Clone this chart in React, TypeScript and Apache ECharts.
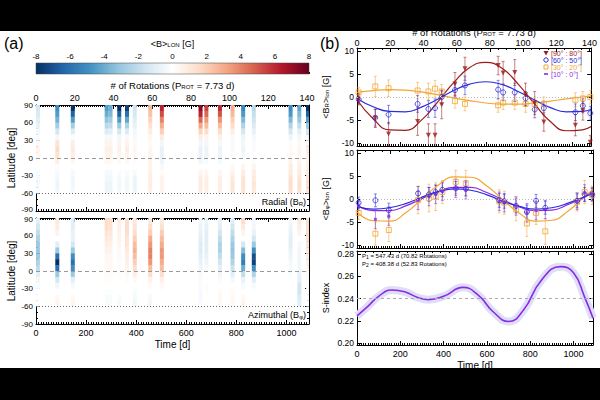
import React, { useEffect, useRef } from 'react';
import * as echarts from 'echarts';

const P_ROT = 7.73;
const T_MAX = 1090;
const FONT = 'Liberation Sans, Arial, sans-serif';

// observation epochs (in rotations)
const EPOCH_ROT = [1, 11, 19, 36.5, 38.5, 43, 47, 51, 59, 65, 85, 88, 95, 101.5, 107, 112.5, 131.5, 136, 140.5];
const LAT_EDGES = [90, 80, 70, 60, 50, 40, 30, 20, 10, 0, -10, -20, -30, -40, -50, -60];

const RADIAL_MAP = [
  [-1.5, -1.3, -1.0, -0.8, -0.5, -0.2, 0.3, 0.5, 0.4, 0.2, 0.0, -0.2, -0.3, -0.3, -0.2],
  [-5.0, -4.5, -3.8, -2.8, -1.5, -0.5, 1.2, 1.6, 1.3, 0.7, 0.2, -0.3, -0.5, -0.6, -0.5],
  [-8.0, -6.5, -4.5, -2.8, -1.2, -0.2, 0.8, 1.0, 0.8, 0.4, 0.0, -0.3, -0.5, -0.5, -0.4],
  [-4.5, -4.0, -3.2, -2.2, -1.2, -0.4, 0.5, 0.7, 0.6, 0.3, 0.0, -0.3, -0.5, -0.6, -0.6],
  [-4.0, -3.6, -2.8, -2.0, -1.0, -0.3, 0.5, 0.7, 0.6, 0.3, 0.0, -0.3, -0.5, -0.6, -0.6],
  [-8.0, -6.5, -4.5, -3.0, -1.5, -0.5, 0.5, 0.7, 0.5, 0.3, 0.0, -0.2, -0.4, -0.5, -0.4],
  [-7.5, -6.0, -4.2, -2.6, -1.2, -0.3, 0.6, 0.8, 0.6, 0.3, 0.0, -0.2, -0.4, -0.5, -0.4],
  [-1.6, -1.4, -1.1, -0.8, -0.5, -0.3, 0.3, 0.4, 0.3, 0.2, 0.0, -0.3, -0.6, -0.7, -0.6],
  [2.6, 2.3, 1.8, 1.3, 0.8, 0.4, 0.3, 0.4, 0.5, 0.6, 0.6, 0.7, 0.8, 0.8, 0.7],
  [6.2, 5.2, 4.0, 3.0, 2.0, 0.9, -0.5, -0.8, -0.8, -0.6, -0.3, 0.2, 0.5, 0.6, 0.5],
  [7.2, 6.2, 4.6, 3.2, 1.8, 0.8, -0.5, -0.8, -0.8, -0.5, 0.0, 0.5, 0.8, 0.9, 0.8],
  [5.5, 4.6, 3.5, 2.5, 1.5, 0.5, -0.5, -0.7, -0.6, -0.3, 0.0, 0.4, 0.7, 0.8, 0.7],
  [6.0, 5.0, 3.6, 2.5, 1.5, 0.7, -0.4, -0.7, -0.6, -0.3, 0.0, 0.4, 0.7, 0.8, 0.7],
  [3.0, 2.6, 2.0, 1.5, 0.8, 0.3, -0.2, -0.3, -0.2, 0.0, 0.3, 0.6, 1.0, 1.2, 1.1],
  [-5.2, -4.6, -3.6, -2.5, -1.5, -0.6, -0.5, -0.6, -0.4, 0.0, 0.4, 0.8, 1.2, 1.3, 1.2],
  [-2.2, -1.9, -1.6, -1.2, -0.8, -0.4, -0.2, -0.2, 0.0, 0.2, 0.5, 0.8, 1.0, 1.2, 1.0],
  [-5.2, -4.6, -3.6, -2.5, -1.5, -0.6, 0.2, 0.3, 0.3, 0.5, 0.8, 1.0, 1.3, 1.5, 1.4],
  [-4.2, -3.6, -3.0, -2.0, -1.0, -0.5, 0.3, 0.4, 0.4, 0.5, 0.7, 0.9, 1.2, 1.4, 1.2],
  [-8.0, -6.5, -4.5, -3.0, -1.5, -0.5, 0.5, 0.8, 0.7, 0.6, 0.7, 0.9, 1.2, 1.3, 1.2],
];

const AZIMUTHAL_MAP = [
  [-1.0, -1.5, -2.0, -2.5, -3.0, -3.0, -3.0, -2.5, -2.0, -1.0, -0.5, -0.2, 0.0, 0.0, 0.0],
  [1.0, 0.8, 0.5, 0.0, -1.0, -3.0, -6.0, -8.0, -6.0, -3.0, -1.5, -0.5, 0.0, 0.3, 0.5],
  [-1.0, -1.0, -0.8, -0.8, -1.5, -3.0, -5.0, -6.0, -5.0, -3.0, -1.0, -0.3, 0.0, 0.3, 0.5],
  [1.5, 1.5, 1.2, 1.0, 0.8, 0.6, 0.4, 0.3, 0.3, 0.2, 0.1, 0.0, -0.1, -0.2, -0.2],
  [1.3, 1.3, 1.1, 0.9, 0.7, 0.5, 0.4, 0.3, 0.3, 0.2, 0.1, 0.0, -0.1, -0.2, -0.2],
  [0.8, 0.7, 0.6, 0.5, 0.4, 0.3, 0.3, 0.2, 0.2, 0.1, 0.0, 0.0, 0.0, -0.2, -0.3],
  [1.5, 1.5, 1.5, 1.2, 1.2, 1.0, 0.8, 0.7, 0.5, 0.3, 0.1, 0.0, 0.0, 0.0, 0.0],
  [1.0, 1.2, 1.5, 2.0, 2.5, 2.8, 2.5, 2.0, 1.5, 0.8, 0.3, 0.0, -0.2, -0.4, -0.5],
  [1.0, 1.5, 2.0, 3.0, 3.5, 4.0, 4.0, 3.5, 2.5, 1.5, 0.6, 0.2, 0.0, -0.3, -0.5],
  [1.0, 1.3, 2.0, 2.5, 3.0, 3.5, 3.5, 3.0, 2.5, 1.5, 0.7, 0.3, 0.0, 0.0, 0.0],
  [-0.5, -0.6, -0.8, -1.0, -1.2, -1.2, -1.0, -0.8, -0.6, -0.3, -0.2, -0.2, -0.3, -0.3, -0.2],
  [-0.6, -0.8, -1.0, -1.0, -1.0, -1.0, -0.8, -0.6, -0.3, 0.0, 0.0, 0.1, 0.1, 0.0, 0.0],
  [-0.8, -1.0, -1.5, -2.0, -2.5, -2.5, -2.0, -1.5, -1.0, -0.5, -0.2, 0.0, 0.2, 0.3, 0.3],
  [-1.0, -1.5, -2.0, -2.5, -3.0, -3.2, -3.0, -2.5, -1.8, -1.0, -0.4, 0.0, 0.2, 0.3, 0.3],
  [1.5, 1.0, 0.5, 0.0, -1.5, -3.5, -5.0, -5.5, -4.0, -2.0, -0.8, -0.3, 0.0, 0.3, 0.5],
  [-0.3, -0.5, -0.8, -1.5, -3.0, -5.0, -7.0, -7.5, -5.0, -2.5, -1.0, -0.3, 0.0, 0.0, 0.0],
  [-0.5, -0.6, -0.8, -1.0, -1.0, -0.8, -0.6, -0.4, -0.3, -0.2, 0.0, 0.0, 0.0, 0.0, 0.0],
  [1.0, 0.8, 0.5, 0.0, -0.3, -0.5, -0.5, -0.5, -0.5, -0.8, -1.0, -1.5, -1.5, -1.2, -1.0],
  [1.5, 1.5, 1.5, 1.3, 1.2, 1.0, 0.8, 0.6, 0.4, 0.3, 0.2, 0.1, 0.0, 0.0, 0.0],
];

// Panel (b) top: radial field per latitude band
const BR_80 = [-0.5, -4.6, -8.0, -5.3, null, -8.3, -8.3, -1.7, 2.8, 6.1, 6.8, 5.2, 5.3, 0.5, -1.3, -5.4, -6.1, -3.0, -9.8];
const BR_80_ERR = [1.2, 2.0, 2.5, 3.0, null, 2.5, 2.5, 3.0, 2.5, 2.5, 2.0, 2.5, 2.8, 2.5, 2.5, 2.0, 2.3, 2.0, 1.5];
const BR_50 = [-0.5, -4.5, -3.8, -1.5, null, -2.6, -2.4, 0.0, 1.5, 2.5, 1.6, 1.0, 1.0, -0.3, -2.7, -2.4, -3.3, -1.9, -3.5];
const BR_50_ERR = [1.0, 1.8, 2.0, 1.8, null, 1.8, 2.0, 1.5, 1.5, 2.0, 2.0, 1.8, 2.0, 1.5, 1.8, 1.5, 1.8, 1.5, 1.5];
const BR_20 = [1.0, 2.3, 1.9, 1.4, null, 1.2, 1.8, 1.2, -0.9, -1.5, -1.8, -1.2, -1.2, -1.5, -1.5, -1.5, -0.6, -0.3, 0.0];
const BR_20_ERR = [1.0, 2.2, 1.8, 1.8, null, 1.8, 1.8, 1.5, 1.5, 1.5, 1.5, 1.5, 1.5, 1.8, 1.5, 1.5, 1.5, 1.5, 1.5];

// Panel (b) middle: azimuthal field
const BP_50 = [-0.8, -0.3, -2.4, 1.2, null, 1.0, 1.5, 2.0, 2.3, 2.2, -0.3, -0.5, -1.5, -2.8, -0.4, -1.9, -0.4, 1.0, 1.0];
const BP_50_ERR = [1.2, 1.4, 1.5, 1.5, null, 1.5, 1.5, 1.5, 1.5, 1.5, 1.5, 1.5, 1.5, 1.5, 1.4, 1.4, 1.5, 1.5, 1.3];
const BP_20 = [-3.0, -7.5, -6.7, -0.2, null, 0.2, 0.5, 1.5, 3.7, 3.4, -0.5, -0.8, -2.2, -5.3, -3.0, -7.0, -0.6, 1.5, 0.8];
const BP_20_ERR = [1.5, 2.5, 2.5, 3.0, null, 3.0, 3.0, 2.5, 2.5, 2.8, 2.5, 2.5, 2.5, 2.8, 2.5, 2.8, 2.0, 2.5, 2.0];
const BP_0 = [-1.5, -4.4, -3.7, -0.3, null, 0.5, 1.0, 1.7, 2.3, 2.0, -0.5, -0.8, -1.5, -3.0, -2.5, -2.3, -0.5, 1.3, 1.0];
const BP_0_ERR = [1.0, 2.0, 2.0, 2.0, null, 2.0, 2.0, 2.0, 2.0, 2.0, 2.0, 2.0, 2.0, 2.0, 2.0, 2.0, 1.8, 1.8, 1.5];

// fitted curves
const FIT_DAYS = [0, 75, 150, 225, 300, 375, 450, 525, 600, 675, 750, 825, 900, 975, 1050, 1090];
const FIT_BR_80 = [-0.6, -4.7, -7.1, -7.2, -5.0, -1.1, 3.1, 6.4, 7.5, 6.2, 2.8, -1.4, -5.3, -7.3, -7.1, -6.4];
const FIT_BR_50 = [-0.3, -2.1, -3.1, -3.2, -2.2, -0.5, 1.4, 2.8, 3.3, 2.7, 1.2, -0.6, -2.3, -3.2, -3.1, -2.7];
const FIT_BR_20 = [1.0, 1.4, 1.6, 1.5, 1.1, 0.5, -0.2, -0.8, -1.3, -1.55, -1.55, -1.3, -0.9, -0.4, 0.0, 0.2];
const FIT_BP_50 = [-1.6, -2.2, -1.9, -1.0, 0.4, 1.6, 2.2, 1.9, 0.9, -0.5, -1.6, -2.2, -1.9, -0.9, 0.5, 1.2];
const FIT_BP_0 = [-1.3, -2.5, -2.5, -1.5, 0.1, 1.6, 2.5, 2.5, 1.4, -0.2, -1.7, -2.5, -2.4, -1.2, 0.4, 1.4];
const FIT_BP_20 = [-2.8, -4.7, -4.8, -3.0, 0.0, 3.0, 4.8, 4.7, 2.8, -0.2, -3.1, -4.8, -4.6, -2.6, 0.4, 2.1];

// S-index curve
const S_DAYS = [0, 50, 100, 160, 220, 280, 330, 400, 490, 560, 630, 700, 770, 850, 940, 1000, 1050, 1090];
const S_VALUES = [0.2245, 0.233, 0.242, 0.2476, 0.246, 0.241, 0.239, 0.242, 0.25, 0.243, 0.228, 0.2195, 0.23, 0.256, 0.2685, 0.263, 0.242, 0.2225];

const RD_BU = ['#053061', '#2166ac', '#4393c3', '#92c5de', '#d1e5f0', '#ffffff', '#fddbc7', '#f4a582', '#d6604d', '#b2182b', '#67001f'];

const C_RED = '#9b1c1c';
const C_BLUE = '#2b2bdc';
const C_ORANGE = '#f2a531';
const C_PURPLE = '#8a2be2';

const STRIP_HALF = 8; // days

const SUB = { fontSize: 6, verticalAlign: 'bottom', fontFamily: FONT, color: '#000', padding: [3, 0, 0, 0] };

function heatData(map: number[][]) {
  const out: number[][] = [];
  map.forEach((col, i) =>
    col.forEach((v, j) => out.push([EPOCH_ROT[i] * P_ROT, LAT_EDGES[j], LAT_EDGES[j + 1], v]))
  );
  return out;
}

function pointData(vals: (number | null)[], errs: (number | null)[]) {
  const out: number[][] = [];
  vals.forEach((v, i) => {
    if (v !== null && errs[i] !== null) out.push([EPOCH_ROT[i] * P_ROT, v, errs[i] as number]);
  });
  return out;
}

const axisLine = { show: true, onZero: false, lineStyle: { color: '#000', width: 1 } };
const labelStyle = { fontSize: 9, color: '#000', fontFamily: FONT };

function timeAxis(grid: number, labels: boolean) {
  return {
    type: 'value', gridIndex: grid, position: 'bottom', min: 0, max: T_MAX, interval: 200,
    axisLine, splitLine: { show: false },
    axisTick: { show: true, inside: true, length: 4, lineStyle: { color: '#000' } },
    minorTick: { show: true, splitNumber: 20, length: 2, lineStyle: { color: '#000' } },
    axisLabel: { show: labels, margin: 4, showMaxLabel: false, formatter: (v: number) => String(v), ...labelStyle },
    name: labels ? 'Time [d]' : '', nameLocation: 'middle', nameGap: 15,
    nameTextStyle: { fontSize: 10, color: '#000', fontFamily: FONT },
  };
}

function rotAxis(grid: number, labels: boolean, minorSplit: number, gap: number, margin: number) {
  return {
    type: 'value', gridIndex: grid, position: 'top', min: 0, max: T_MAX / P_ROT, interval: 20,
    axisLine, splitLine: { show: false },
    axisTick: { show: true, inside: true, length: 4, lineStyle: { color: '#000' } },
    minorTick: { show: true, splitNumber: minorSplit, length: 2, lineStyle: { color: '#000' } },
    axisLabel: { show: labels, margin, showMaxLabel: false, formatter: (v: number) => String(v), ...labelStyle },
    name: labels ? '# of Rotations (P{sub|ROT} = 7.73 d)' : '', nameLocation: 'middle', nameGap: gap,
    nameTextStyle: { fontSize: 9.5, color: '#000', fontFamily: FONT, rich: { sub: SUB } },
  };
}

// shift the edge labels so that the "-90" of the upper map and "90" of the lower map do not collide
function latAxis(grid: number, left: boolean, edge: 'top' | 'bottom') {
  return {
    type: 'value', gridIndex: grid, position: left ? 'left' : 'right', min: -90, max: 90, interval: 30,
    axisLine, splitLine: { show: false },
    axisTick: { show: true, inside: true, length: 4, lineStyle: { color: '#000' } },
    minorTick: { show: true, splitNumber: 3, length: 2, lineStyle: { color: '#000' } },
    axisLabel: {
      show: left, margin: 3, ...labelStyle, fontSize: 8,
      formatter: (v: number) => {
        if (edge === 'bottom' && v === -90) return '{up|' + v + '}';
        if (edge === 'top' && v === 90) return '{dn|' + v + '}';
        return String(v);
      },
      rich: {
        up: { fontSize: 8, fontFamily: FONT, color: '#000', padding: [0, 0, 3, 0] },
        dn: { fontSize: 8, fontFamily: FONT, color: '#000', padding: [3, 0, 0, 0] },
      },
    },
    name: left ? 'Latitude [deg]' : '', nameLocation: 'middle', nameGap: 20, nameRotate: 90,
    nameTextStyle: { fontSize: 10, color: '#000', fontFamily: FONT },
  };
}

function valAxis(grid: number, left: boolean, min: number, max: number, ticks: number[], name: string, fmt?: (v: number) => string) {
  return {
    type: 'value', gridIndex: grid, position: left ? 'left' : 'right', min, max,
    axisLine, splitLine: { show: false },
    axisTick: { show: true, inside: true, length: 4, customValues: ticks, lineStyle: { color: '#000' } },
    axisLabel: { show: left, margin: 3, customValues: ticks, formatter: fmt, ...labelStyle, fontSize: 8.5 },
    name: left ? name : '', nameLocation: 'middle', nameGap: 27, nameRotate: 90,
    nameTextStyle: { fontSize: 9, color: '#000', fontFamily: FONT, rich: { sub: SUB } },
  };
}

function heatSeries(map: number[][], xi: number, yi: number) {
  return {
    type: 'custom', xAxisIndex: xi, yAxisIndex: yi, clip: true,
    encode: { x: 0, y: [1, 2] },
    data: heatData(map),
    renderItem: (params: any, api: any) => {
      const t = api.value(0);
      const p1 = api.coord([t - STRIP_HALF, api.value(1)]);
      const p2 = api.coord([t + STRIP_HALF, api.value(2)]);
      const c = api.visual('color');
      return {
        type: 'rect',
        shape: { x: p1[0], y: p1[1], width: p2[0] - p1[0], height: p2[1] - p1[1] + 0.3 },
        style: { fill: c },
      };
    },
    markLine: {
      silent: true, symbol: 'none', label: { show: false },
      data: [
        { yAxis: 0, lineStyle: { color: '#999', type: [4, 3], width: 1 } },
        { yAxis: -60, lineStyle: { color: '#666', type: [1, 2], width: 1 } },
      ],
    },
  };
}

function errSeries(data: number[][], color: string, xi: number, yi: number) {
  return {
    type: 'custom', xAxisIndex: xi, yAxisIndex: yi, clip: true, z: 2,
    data,
    encode: { x: 0, y: 1 },
    renderItem: (params: any, api: any) => {
      const x = api.value(0), v = api.value(1), e = api.value(2);
      const hi = api.coord([x, v + e]);
      const lo = api.coord([x, v - e]);
      const st = { stroke: color, lineWidth: 1, opacity: 0.55 };
      return {
        type: 'group',
        children: [
          { type: 'line', shape: { x1: hi[0], y1: hi[1], x2: lo[0], y2: lo[1] }, style: st },
          { type: 'line', shape: { x1: hi[0] - 1.5, y1: hi[1], x2: hi[0] + 1.5, y2: hi[1] }, style: st },
          { type: 'line', shape: { x1: lo[0] - 1.5, y1: lo[1], x2: lo[0] + 1.5, y2: lo[1] }, style: st },
        ],
      };
    },
  };
}

function fitSeries(name: string, vals: number[], color: string, xi: number, yi: number) {
  return {
    type: 'line', name, xAxisIndex: xi, yAxisIndex: yi, smooth: 0.5, showSymbol: false, z: 3,
    data: FIT_DAYS.map((d, i) => [d, vals[i]]),
    lineStyle: { color, width: 1.2 },
  };
}

function pointSeries(data: number[][], symbol: string, size: number, color: string, filled: boolean, rotate: number, xi: number, yi: number, zeroLine: boolean) {
  const s: any = {
    type: 'scatter', xAxisIndex: xi, yAxisIndex: yi, z: 4,
    data: data.map((d) => [d[0], d[1]]),
    symbol, symbolSize: size, symbolRotate: rotate,
    itemStyle: filled ? { color } : { color: 'rgba(255,255,255,0)', borderColor: color, borderWidth: 1 },
  };
  if (zeroLine) {
    s.markLine = {
      silent: true, symbol: 'none', label: { show: false },
      data: [{ yAxis: 0, lineStyle: { color: '#bbb', type: [1, 2], width: 1 } }],
    };
  }
  return s;
}

function legendItem(y: number, shape: any, label: string, color: string) {
  return [
    shape,
    {
      type: 'text', x: 551, y,
      style: { text: label, fill: color, font: `7px ${FONT}`, textVerticalAlign: 'middle' },
    },
  ];
}

export default function App() {
  const ref = useRef<HTMLDivElement>(null);
  useEffect(() => {
    if (!ref.current) return;
    const chart = echarts.init(ref.current, null, { renderer: 'svg' });

    const grids = [
      { left: 36, top: 63, width: 273, height: 11 },
      { left: 36, top: 105, width: 273, height: 106 },
      { left: 36, top: 218, width: 273, height: 106 },
      { left: 357, top: 48, width: 236, height: 98 },
      { left: 357, top: 150, width: 236, height: 98 },
      { left: 357, top: 251, width: 236, height: 94 },
    ];

    const xAxis = [
      {
        type: 'value', gridIndex: 0, position: 'top', min: -8, max: 8, interval: 2,
        axisLine: { show: false }, splitLine: { show: false },
        axisTick: { show: true, inside: false, length: 2, lineStyle: { color: '#000' } },
        axisLabel: { margin: 3, fontSize: 8, color: '#000', fontFamily: FONT },
        name: '<B>{sub|LON} [G]', nameLocation: 'middle', nameGap: 15,
        nameTextStyle: { fontSize: 9, color: '#000', fontFamily: FONT, rich: { sub: SUB } },
      },
      timeAxis(1, false),
      rotAxis(1, true, 20, 15, 3),
      timeAxis(2, true),
      rotAxis(2, false, 20, 15, 3),
      timeAxis(3, false),
      rotAxis(3, true, 4, 8, 1),
      timeAxis(4, false),
      rotAxis(4, false, 4, 8, 1),
      timeAxis(5, true),
      rotAxis(5, false, 4, 8, 1),
    ];

    const brTicks = [-10, -5, 0, 5, 10];
    const sTicks = [0.2, 0.22, 0.24, 0.26, 0.28];
    const yAxis = [
      { type: 'value', gridIndex: 0, min: 0, max: 1, show: false },
      latAxis(1, true, 'bottom'), latAxis(1, false, 'bottom'),
      latAxis(2, true, 'top'), latAxis(2, false, 'top'),
      valAxis(3, true, -10.6, 10.6, brTicks, '<B{sub|R}>{sub|lon} [G]'),
      valAxis(3, false, -10.6, 10.6, brTicks, ''),
      valAxis(4, true, -10.6, 10.6, brTicks, '<B{sub|φ}>{sub|lon} [G]'),
      valAxis(4, false, -10.6, 10.6, brTicks, ''),
      valAxis(5, true, 0.1985, 0.2825, sTicks, 'S-index', (v: number) => v.toFixed(2)),
      valAxis(5, false, 0.1985, 0.2825, sTicks, ''),
    ];

    const gradStops = RD_BU.map((c, i) => ({ offset: i / (RD_BU.length - 1), color: c }));

    const series: any[] = [
      {
        type: 'custom', xAxisIndex: 0, yAxisIndex: 0,
        data: [[-8, 8]],
        renderItem: (params: any, api: any) => {
          const a = api.coord([api.value(0), 1]);
          const b = api.coord([api.value(1), 0]);
          return {
            type: 'rect',
            shape: { x: a[0], y: a[1], width: b[0] - a[0], height: b[1] - a[1] },
            style: { fill: new echarts.graphic.LinearGradient(0, 0, 1, 0, gradStops), stroke: '#444', lineWidth: 0.5 },
          };
        },
      },
      heatSeries(RADIAL_MAP, 1, 1),
      heatSeries(AZIMUTHAL_MAP, 3, 3),
    ];

    // panel b top (xAxis 5, yAxis 5)
    const pR80 = pointData(BR_80, BR_80_ERR);
    const pR50 = pointData(BR_50, BR_50_ERR);
    const pR20 = pointData(BR_20, BR_20_ERR);
    series.push(
      errSeries(pR20, C_ORANGE, 5, 5), errSeries(pR50, C_BLUE, 5, 5), errSeries(pR80, C_RED, 5, 5),
      fitSeries('f1', FIT_BR_20, C_ORANGE, 5, 5), fitSeries('f2', FIT_BR_50, C_BLUE, 5, 5), fitSeries('f3', FIT_BR_80, C_RED, 5, 5),
      pointSeries(pR20, 'rect', 5, C_ORANGE, false, 0, 5, 5, true),
      pointSeries(pR50, 'circle', 5, C_BLUE, false, 0, 5, 5, false),
      pointSeries(pR80, 'triangle', 5, C_RED, true, 180, 5, 5, false),
    );

    // panel b middle (xAxis 7, yAxis 7)
    const pP50 = pointData(BP_50, BP_50_ERR);
    const pP20 = pointData(BP_20, BP_20_ERR);
    const pP0 = pointData(BP_0, BP_0_ERR);
    series.push(
      errSeries(pP20, C_ORANGE, 7, 7), errSeries(pP0, C_PURPLE, 7, 7), errSeries(pP50, C_BLUE, 7, 7),
      fitSeries('g1', FIT_BP_20, C_ORANGE, 7, 7), fitSeries('g2', FIT_BP_0, C_PURPLE, 7, 7), fitSeries('g3', FIT_BP_50, C_BLUE, 7, 7),
      pointSeries(pP20, 'rect', 5, C_ORANGE, false, 0, 7, 7, true),
      pointSeries(pP0, 'rect', 3, C_PURPLE, true, 0, 7, 7, false),
      pointSeries(pP50, 'circle', 5, C_BLUE, false, 0, 7, 7, false),
    );

    // S-index (xAxis 9, yAxis 9): uncertainty band drawn as a wide pale stroke under the curve
    series.push(
      {
        type: 'line', xAxisIndex: 9, yAxisIndex: 9, smooth: 0.5, showSymbol: false, z: 2,
        data: S_DAYS.map((d, i) => [d, S_VALUES[i]]),
        lineStyle: { color: '#dedef9', width: 8 },
        markLine: {
          silent: true, symbol: 'none', label: { show: false },
          data: [{ yAxis: 0.24, lineStyle: { color: '#aaa', type: [3, 3], width: 1 } }],
        },
      },
      {
        type: 'line', xAxisIndex: 9, yAxisIndex: 9, smooth: 0.5, showSymbol: false, z: 3,
        data: S_DAYS.map((d, i) => [d, S_VALUES[i]]),
        lineStyle: { color: C_PURPLE, width: 1.6 },
      },
    );

    const graphic: any[] = [
      { type: 'rect', shape: { x: 0, y: 0, width: 600, height: 31 }, style: { fill: '#000' }, z: 100 },
      { type: 'rect', shape: { x: 0, y: 368, width: 600, height: 32 }, style: { fill: '#000' }, z: 100 },
      { type: 'text', x: 4, y: 43, style: { text: '(a)', font: `16px ${FONT}`, fill: '#000', textVerticalAlign: 'middle' } },
      { type: 'text', x: 320, y: 43, style: { text: '(b)', font: `16px ${FONT}`, fill: '#000', textVerticalAlign: 'middle' } },
      {
        type: 'text', x: 306, y: 202,
        style: { text: 'Radial (B{sub|R})', font: `9px ${FONT}`, fill: '#000', textAlign: 'right', textVerticalAlign: 'middle', rich: { sub: SUB } },
      },
      {
        type: 'text', x: 306, y: 315,
        style: { text: 'Azimuthal (B{sub|φ})', font: `9px ${FONT}`, fill: '#000', textAlign: 'right', textVerticalAlign: 'middle', rich: { sub: SUB } },
      },
      {
        type: 'text', x: 362, y: 256,
        style: { text: 'P{s|1} = 547.43 d (70.82 Rotations)', font: `6px ${FONT}`, fill: '#000', textVerticalAlign: 'middle', rich: { s: { fontSize: 5, verticalAlign: 'bottom', padding: [2, 0, 0, 0] } } },
      },
      {
        type: 'text', x: 362, y: 264,
        style: { text: 'P{s|2} = 408.38 d (52.83 Rotations)', font: `6px ${FONT}`, fill: '#000', textVerticalAlign: 'middle', rich: { s: { fontSize: 5, verticalAlign: 'bottom', padding: [2, 0, 0, 0] } } },
      },
      ...legendItem(53, { type: 'polygon', shape: { points: [[543.5, 51], [548.5, 51], [546, 55.5]] }, style: { fill: C_RED } }, '[90° : 80°]', C_RED),
      ...legendItem(60, { type: 'circle', shape: { cx: 546, cy: 60, r: 2.2 }, style: { fill: 'none', stroke: C_BLUE, lineWidth: 1 } }, '[60° : 50°]', C_BLUE),
      ...legendItem(67, { type: 'rect', shape: { x: 544, y: 65, width: 4, height: 4 }, style: { fill: 'none', stroke: C_ORANGE, lineWidth: 1 } }, '[30° : 20°]', C_ORANGE),
      ...legendItem(74, { type: 'rect', shape: { x: 544, y: 73.2, width: 4, height: 1.6 }, style: { fill: C_PURPLE } }, '[10° : 0°]', C_PURPLE),
    ];

    chart.setOption({
      animation: false,
      backgroundColor: '#fff',
      grid: grids,
      xAxis,
      yAxis,
      visualMap: {
        type: 'continuous', show: false, min: -8, max: 8, dimension: 3, seriesIndex: [1, 2],
        inRange: { color: RD_BU },
      },
      series,
      graphic,
    });
    return () => chart.dispose();
  }, []);

  return (
    <div
      ref={ref}
      style={{ position: 'fixed', left: 0, top: 0, width: 600, height: 400, background: '#fff' }}
    />
  );
}
